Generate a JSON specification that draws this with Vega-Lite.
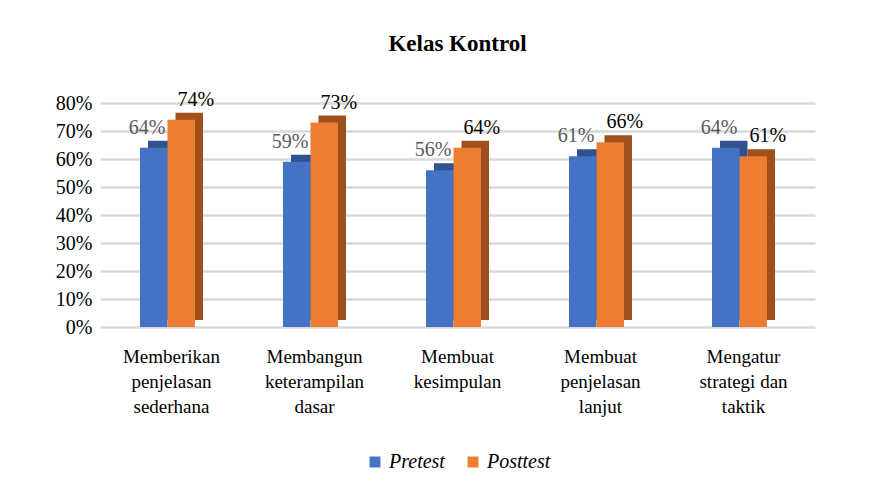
{
  "$schema": "https://vega.github.io/schema/vega-lite/v6.json",
  "width": 715,
  "height": 224,
  "autosize": "none",
  "padding": {"left": 100, "top": 103, "right": 62, "bottom": 162},
  "background": "white",
  "title": {
    "text": "Kelas Kontrol",
    "font": "Liberation Serif",
    "fontSize": 23,
    "fontWeight": "bold",
    "color": "#000000",
    "anchor": "middle",
    "offset": 34
  },
  "data": {
    "values": [
      {"kategori": "Memberikan penjelasan sederhana", "series": "Pretest", "nilai": 0.64},
      {"kategori": "Memberikan penjelasan sederhana", "series": "Posttest", "nilai": 0.74},
      {"kategori": "Membangun keterampilan dasar", "series": "Pretest", "nilai": 0.59},
      {"kategori": "Membangun keterampilan dasar", "series": "Posttest", "nilai": 0.73},
      {"kategori": "Membuat kesimpulan", "series": "Pretest", "nilai": 0.56},
      {"kategori": "Membuat kesimpulan", "series": "Posttest", "nilai": 0.64},
      {"kategori": "Membuat penjelasan lanjut", "series": "Pretest", "nilai": 0.61},
      {"kategori": "Membuat penjelasan lanjut", "series": "Posttest", "nilai": 0.66},
      {"kategori": "Mengatur strategi dan taktik", "series": "Pretest", "nilai": 0.64},
      {"kategori": "Mengatur strategi dan taktik", "series": "Posttest", "nilai": 0.61}
    ]
  },
  "encoding": {
    "x": {
      "field": "kategori",
      "type": "nominal",
      "sort": null,
      "scale": {"paddingInner": 0.5594, "paddingOuter": 0.2797},
      "axis": {
        "title": null,
        "domain": false,
        "ticks": false,
        "labelAngle": 0,
        "labelFont": "Liberation Serif",
        "labelFontSize": 19,
        "labelColor": "#000000",
        "labelLineHeight": 25,
        "labelPadding": 20,
        "labelLimit": 0,
        "labelBaseline": "top",
        "labelExpr": "{'Memberikan penjelasan sederhana': ['Memberikan','penjelasan','sederhana'], 'Membangun keterampilan dasar': ['Membangun','keterampilan','dasar'], 'Membuat kesimpulan': ['Membuat','kesimpulan'], 'Membuat penjelasan lanjut': ['Membuat','penjelasan','lanjut'], 'Mengatur strategi dan taktik': ['Mengatur','strategi dan','taktik']}[datum.value]"
      }
    },
    "y": {
      "field": "nilai",
      "type": "quantitative",
      "scale": {"domain": [0, 0.8]},
      "axis": {
        "title": null,
        "format": ".0%",
        "values": [0, 0.1, 0.2, 0.3, 0.4, 0.5, 0.6, 0.7, 0.8],
        "domain": false,
        "ticks": false,
        "labelFont": "Liberation Serif",
        "labelFontSize": 20,
        "labelColor": "#000000",
        "labelPadding": 8,
        "gridColor": "#d9d9d9",
        "gridWidth": 2.5
      }
    }
  },
  "layer": [
    {
      "mark": {"type": "bar", "yOffset": -7},
      "encoding": {
        "xOffset": {
          "field": "series",
          "type": "nominal",
          "sort": ["Pretest", "Posttest"],
          "scale": {"paddingInner": 0, "paddingOuter": 0.1455, "align": 1}
        },
        "color": {
          "field": "series",
          "type": "nominal",
          "sort": ["Pretest", "Posttest"],
          "scale": {"domain": ["Pretest", "Posttest"], "range": ["#2F528F", "#A0501C"]},
          "legend": null
        }
      }
    },
    {
      "mark": {"type": "bar"},
      "encoding": {
        "xOffset": {
          "field": "series",
          "type": "nominal",
          "sort": ["Pretest", "Posttest"],
          "scale": {"paddingInner": 0, "paddingOuter": 0.1455, "align": 0}
        },
        "color": {
          "field": "series",
          "type": "nominal",
          "sort": ["Pretest", "Posttest"],
          "scale": {"domain": ["Pretest", "Posttest"], "range": ["#4472C4", "#ED7D31"]},
          "legend": {
            "title": null,
            "orient": "bottom",
            "direction": "horizontal",
            "symbolType": "square",
            "symbolSize": 120,
            "symbolStrokeWidth": 0,
            "labelFont": "Liberation Serif",
            "labelFontStyle": "italic",
            "labelFontSize": 20,
            "labelColor": "#000000",
            "columnPadding": 18,
            "labelOffset": 4,
            "offset": 36
          }
        }
      }
    },
    {
      "mark": {"type": "text", "font": "Liberation Serif", "fontSize": 20, "baseline": "alphabetic", "dy": -14},
      "encoding": {
        "xOffset": {
          "field": "series",
          "type": "nominal",
          "sort": ["Pretest", "Posttest"],
          "scale": {"paddingInner": 0, "paddingOuter": 0.1455, "align": 0.5}
        },
        "text": {"field": "nilai", "type": "quantitative", "format": ".0%"},
        "color": {"condition": {"test": "datum.series === 'Pretest'", "value": "#595959"}, "value": "#000000"}
      }
    }
  ],
  "resolve": {"scale": {"color": "independent", "xOffset": "independent"}},
  "config": {
    "view": {"stroke": null},
    "legend": {"layout": {"bottom": {"anchor": "middle"}}}
  }
}
